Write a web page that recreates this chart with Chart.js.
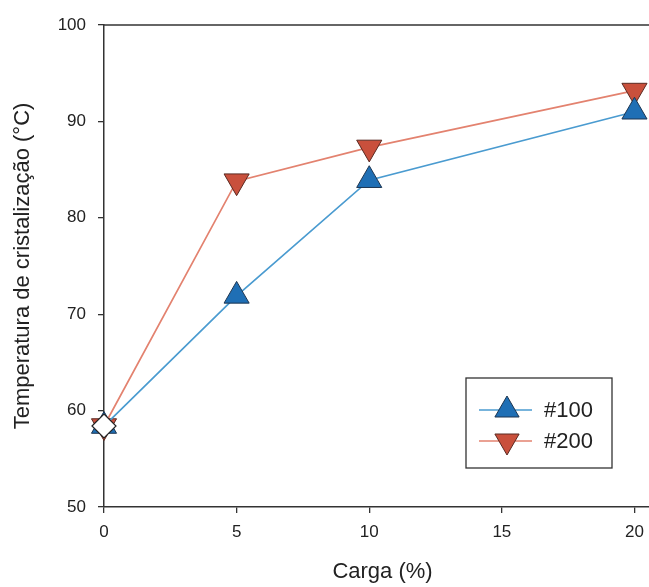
<!DOCTYPE html>
<html><head><meta charset="utf-8">
<script src="https://cdn.jsdelivr.net/npm/chart.js@4"></script>
<style>html,body{margin:0;padding:0;background:#fff;overflow:hidden}#wrap{width:649px;height:587px;overflow:hidden}</style>
</head><body><div id="wrap"><canvas id="c" width="661" height="587"></canvas></div>
<script>
const carga = [0, 5, 10, 20];
const serie100 = [58.4, 71.9, 83.9, 91.0];
const serie200 = [58.4, 83.8, 87.3, 93.2];
const xTicks = [0, 5, 10, 15, 20];
const yTicks = [50, 60, 70, 80, 90, 100];
const seriesNames = ['#100', '#200'];

const blueLine = '#4a9bd0', blueFill = '#1f6fb5', blueEdge = '#1d3550';
const redLine = '#e3826f', redFill = '#c9503c', redEdge = '#5a2a22';
const FONT = '"Liberation Sans", Arial, sans-serif';

const pts = (ys) => carga.map((x, i) => ({x, y: ys[i]}));

const frame = {
  id: 'frame',
  afterDraw(chart) {
    const {ctx, chartArea: a} = chart;
    ctx.save();
    ctx.strokeStyle = '#333';
    ctx.lineWidth = 1.5;
    ctx.beginPath();
    ctx.moveTo(a.left, a.top); ctx.lineTo(a.right, a.top);
    ctx.stroke();
    // legend box inside plot
    const bx = a.left + 362, by = a.top + 353, bw = 146, bh = 90;
    ctx.lineWidth = 1.3;
    ctx.strokeStyle = '#333';
    ctx.strokeRect(bx, by, bw, bh);
    const rows = [
      {name: seriesNames[0], line: blueLine, fill: blueFill, edge: blueEdge, rot: 0, dy: 32},
      {name: seriesNames[1], line: redLine, fill: redFill, edge: redEdge, rot: 180, dy: 63}
    ];
    rows.forEach(r => {
      const cy = by + r.dy;
      ctx.strokeStyle = r.line; ctx.lineWidth = 1.7;
      ctx.beginPath(); ctx.moveTo(bx + 13, cy); ctx.lineTo(bx + 66, cy); ctx.stroke();
      const rad = 14, cx = bx + 41;
      ctx.beginPath();
      for (let k = 0; k < 3; k++) {
        const ang = (r.rot * Math.PI / 180) + k * 2 * Math.PI / 3;
        const px = cx + Math.sin(ang) * rad, py = cy - Math.cos(ang) * rad;
        if (k === 0) ctx.moveTo(px, py); else ctx.lineTo(px, py);
      }
      ctx.closePath();
      ctx.fillStyle = r.fill; ctx.fill();
      ctx.strokeStyle = r.edge; ctx.lineWidth = 1; ctx.stroke();
      ctx.fillStyle = '#222';
      ctx.font = '22px ' + FONT;
      ctx.textBaseline = 'middle'; ctx.textAlign = 'left';
      ctx.fillText(r.name, bx + 78, cy + 1);
    });
    ctx.restore();
  }
};

new Chart(document.getElementById('c'), {
  type: 'line',
  data: {
    datasets: [
      {label: seriesNames[0], data: pts(serie100), borderColor: blueLine, borderWidth: 1.7,
       backgroundColor: blueFill, pointBackgroundColor: blueFill, pointBorderColor: blueEdge,
       pointBorderWidth: 1, pointStyle: 'triangle', pointRadius: 14.5, pointRotation: 0, tension: 0, clip: false},
      {label: seriesNames[1], data: pts(serie200), borderColor: redLine, borderWidth: 1.7,
       backgroundColor: redFill, pointBackgroundColor: redFill, pointBorderColor: redEdge,
       pointBorderWidth: 1, pointStyle: 'triangle', pointRadius: 14.5, pointRotation: 180, tension: 0, clip: false},
      {label: 'origem', data: [{x: carga[0], y: (serie100[0] + serie200[0]) / 2}], showLine: false, order: -1, clip: false,
       pointStyle: 'rectRot', pointRadius: 12, pointBackgroundColor: '#fff', pointBorderColor: '#222', pointBorderWidth: 1.2}
    ]
  },
  options: {
    responsive: false, animation: false,
    layout: {autoPadding: false, padding: {top: 25, right: 0, left: 0, bottom: 0}},
    plugins: {legend: {display: false}, tooltip: {enabled: false}},
    scales: {
      x: {
        type: 'linear', min: 0, max: 21,
        afterBuildTicks: s => { s.ticks = xTicks.map(v => ({value: v})); },
        afterFit: s => { s.height = 80; s.paddingRight = 0; s.paddingLeft = 0; },
        border: {display: true, color: '#333', width: 1.5},
        grid: {display: true, drawOnChartArea: false, drawTicks: true, tickLength: 6, color: '#333', lineWidth: 1.3},
        ticks: {color: '#222', padding: 9, font: {size: 17, family: FONT}, maxRotation: 0},
        title: {display: true, text: 'Carga (%)', color: '#222', padding: {top: 0, bottom: 2},
                font: {size: 22, family: FONT}}
      },
      y: {
        min: 50, max: 100,
        afterBuildTicks: s => { s.ticks = yTicks.map(v => ({value: v})); },
        afterFit: s => { s.width = 104; s.paddingTop = 0; s.paddingBottom = 0; },
        border: {display: true, color: '#333', width: 1.5},
        grid: {display: true, drawOnChartArea: false, drawTicks: true, tickLength: 6, color: '#333', lineWidth: 1.3},
        ticks: {color: '#222', padding: 12, font: {size: 17, family: FONT}},
        title: {display: true, text: 'Temperatura de cristalização (°C)', color: '#222', padding: {top: 10, bottom: 0},
                font: {size: 22, family: FONT}}
      }
    }
  },
  plugins: [frame]
});
</script></body></html>
